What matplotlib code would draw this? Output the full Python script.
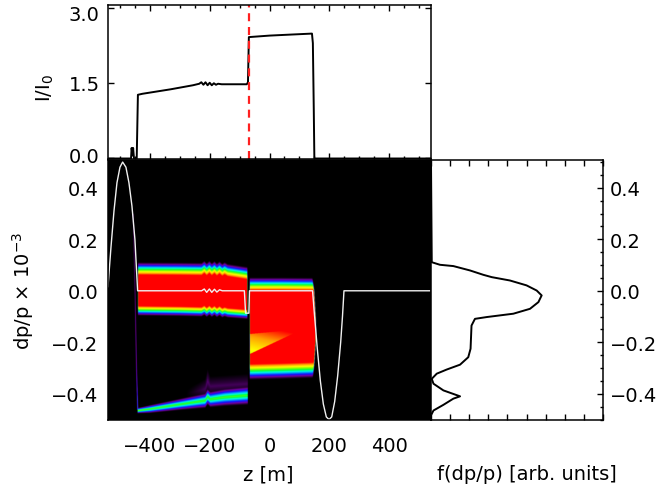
import numpy as np
import matplotlib.pyplot as plt
from matplotlib.colors import LinearSegmentedColormap
from matplotlib.ticker import MultipleLocator
from matplotlib.transforms import ScaledTranslation

plt.rcParams['font.family'] = ['DejaVu Sans']
plt.rcParams['font.size'] = 14
plt.rcParams['axes.linewidth'] = 1.1
plt.rcParams['mathtext.default'] = 'regular'

# ---- top panel: current along the line
z_cur = [-540, -463, -461, -458, -456, -453, -444, -440, -425, -330, -256, -235,
         -228, -221, -214, -207, -200, -193, -186, -179, -172, -160, -120, -76,
         -72, -69, 0, 70, 142, 145, 148, 150, 540]
i_cur = [0.0, 0.0, 0.21, 0.06, 0.21, 0.0, 0.0, 1.27, 1.29, 1.38, 1.46, 1.49,
         1.52, 1.47, 1.52, 1.46, 1.51, 1.46, 1.50, 1.47, 1.49, 1.48, 1.48, 1.48,
         1.52, 2.42, 2.45, 2.47, 2.49, 2.30, 1.00, 0.0, 0.0]
z_marker = -69

# ---- white trace in phase-space panel
z_ref = [-540, -530, -520, -510, -500, -491, -480, -470, -460, -450, -441,
         -227, -218, -210, -201, -193, -184, -176, -167, -158, -84, -80, -69, -67,
         144, 150, 160, 170, 180, 190, 199, 208, 218, 228, 238, 244, 249, 540]
dp_ref = [0.016, 0.17, 0.31, 0.42, 0.48, 0.50, 0.48, 0.42, 0.33, 0.20, 0.0,
          0.0, 0.007, -0.006, 0.007, -0.006, 0.006, -0.005, 0.004, 0.0, 0.0, -0.087, -0.087, 0.0,
          0.0, -0.088, -0.227, -0.35, -0.44, -0.49, -0.50, -0.49, -0.43, -0.33, -0.20, -0.10, 0.0, 0.0]

# ---- bunch core before the jump (edges where density reaches zero)
zA = [-441, -300, -227, -218, -210, -201, -193, -184, -176, -167, -158, -150, -140, -73]
topA = [0.112, 0.111, 0.110, 0.118, 0.109, 0.118, 0.109, 0.117, 0.108, 0.116, 0.107, 0.113, 0.106, 0.094]
botA = [-0.096, -0.098, -0.100, -0.094, -0.102, -0.094, -0.102, -0.095, -0.103, -0.096, -0.104, -0.100, -0.104, -0.110]

# low-energy tail
zT = [-441, -400, -300, -215, -207, -198, -150, -73]
cT = [-0.464, -0.458, -0.440, -0.425, -0.410, -0.420, -0.412, -0.405]
wT = [0.011, 0.016, 0.023, 0.030, 0.032, 0.032, 0.035, 0.037]
pT = [0.64, 0.60, 0.58, 0.58, 0.58, 0.58, 0.58, 0.58]

# faint halo above the tail
zH = [-280, -215, -207, -198, -73]
cH = [-0.40, -0.38, -0.35, -0.37, -0.36]
wH = [0.02, 0.04, 0.05, 0.04, 0.04]
pH = [0.0, 0.10, 0.12, 0.10, 0.10]

# thin streak joining core and tail
dpC = [-0.46, -0.30, 0.0, 0.30]
zC = [-441, -445, -450, -456]
vC = [0.38, 0.22, 0.16, 0.12]

# bunch after the jump
zB = [-67, 40, 150]
topB = [0.053, 0.053, 0.052]
botB = [-0.345, -0.342, -0.338]
dp_end = [-0.35, -0.30, -0.20, -0.15, -0.10, 0.0, 0.06]
z_end = [145, 150, 156, 157, 156, 151, 144]
z_wedge = [-67, 111]
wedge_top = [-0.167, -0.148]
wedge_bot = [-0.245, -0.148]
wedge_depth = [0.32, 0.0]

# ---- projected distribution (right panel)
f_prof = [0.0, 0.004, 0.047, 0.117, 0.204, 0.274, 0.318, 0.413, 0.50, 0.553, 0.579,
          0.562, 0.518, 0.431, 0.292, 0.230, 0.212, 0.207, 0.195, 0.152, 0.082,
          0.030, 0.004, 0.013, 0.065, 0.152, 0.117, 0.065, 0.013, 0.004]
dp_prof = [0.5, 0.111, 0.101, 0.096, 0.079, 0.062, 0.053, 0.040, 0.021, 0.001, -0.018,
           -0.044, -0.070, -0.089, -0.102, -0.109, -0.135, -0.225, -0.258, -0.287, -0.306,
           -0.322, -0.342, -0.361, -0.387, -0.410, -0.419, -0.443, -0.465, -0.478]

# ---------------- density map
zg = np.linspace(-540, 540, 1081)
pg = np.linspace(-0.5, 0.5, 1001)
Z, P = np.meshgrid(zg, pg)

tA = np.interp(zg, zA, topA)
bA = np.interp(zg, zA, botA)
dA = np.clip(np.minimum((tA - P) / 0.052, (P - bA) / 0.040), 0, 1)
dA *= np.clip((Z - zA[0]) / 2.0, 0, 1) * np.clip((zA[-1] - Z) / 2.0, 0, 1)

c = np.interp(zg, zT, cT)
w = np.interp(zg, zT, wT)
p = np.interp(zg, zT, pT)
dT = p * np.clip(1 - np.abs(P - c) / w, 0, 1)
dT *= (Z >= zT[0]) & (Z <= zT[-1])

c = np.interp(zg, zH, cH)
w = np.interp(zg, zH, wH)
p = np.interp(zg, zH, pH)
dH = p * np.clip(1 - np.abs(P - c) / w, 0, 1)
dH *= (Z >= zH[0]) & (Z <= zH[-1])

zl = np.interp(pg, dpC, zC)[:, None]
vl = np.interp(pg, dpC, vC)[:, None]
dC = vl * np.clip(1 - np.abs(Z - zl) / 2.5, 0, 1)
dC *= (P >= dpC[0]) & (P <= dpC[-1])

tB = np.interp(zg, zB, topB)
bB = np.interp(zg, zB, botB)
ze = np.interp(pg, dp_end, z_end)[:, None]
dB = np.clip(np.minimum((tB - P) / 0.053, (P - bB) / 0.065), 0, 1)
dB *= np.clip((Z - zB[0]) / 2.0, 0, 1) * np.clip((ze - Z) / 3.0, 0, 1)
wt = np.interp(zg, z_wedge, wedge_top)
wb = np.interp(zg, z_wedge, wedge_bot)
wd = np.interp(zg, z_wedge, wedge_depth)
inw = (P <= wt) & (P >= wb) & (Z >= z_wedge[0]) & (Z <= z_wedge[1])
frac = np.clip((wt - P) / np.maximum(wt - wb, 1e-6), 0, 1)
dB = np.where(inw, dB - wd * (0.45 + 0.55 * frac), dB)

dens = np.maximum.reduce([dA, dT, dH, dC, dB])

cmap = LinearSegmentedColormap.from_list('idl', [
    (0.0, '#000000'), (0.07, '#2a0038'), (0.16, '#7800a0'), (0.26, '#1010ff'),
    (0.36, '#00a0ff'), (0.44, '#00ffe0'), (0.52, '#00ff40'), (0.62, '#80ff00'),
    (0.72, '#ffff00'), (0.84, '#ffa000'), (0.95, '#ff0000'), (1.0, '#ff0000')])

# ---------------- figure
W, H = 660, 489
fig = plt.figure(figsize=(6.6, 4.89), dpi=100)
ax_top = fig.add_axes([108 / W, 329 / H, 323 / W, 154 / H])
ax_main = fig.add_axes([108 / W, 68.5 / H, 323 / W, 260 / H])
ax_r = fig.add_axes([431 / W, 68.5 / H, 172 / W, 260 / H])

# top panel
ax_top.plot(z_cur, i_cur, color='black', lw=1.4)
ax_top.axvline(z_marker, color='#ff2020', lw=1.6, dashes=(3.6, 2.6))
ax_top.set_xlim(-540, 540)
ax_top.set_ylim(-0.01, 3.06)
ax_top.set_yticks([0, 1.5, 3.0])
ax_top.xaxis.set_major_locator(MultipleLocator(200))
ax_top.xaxis.set_minor_locator(MultipleLocator(50))
ax_top.tick_params(which='both', direction='in', top=True, right=True,
                   labelbottom=False)
ax_top.tick_params(which='major', length=4, width=1)
ax_top.tick_params(which='minor', length=2.5, width=1)
ax_top.tick_params(axis='y', pad=6)
# the labels sit a little inside the panel, as in the original
for lbl, dy in zip(ax_top.get_yticklabels(), [4, 1, -4]):
    lbl.set_transform(lbl.get_transform() + ScaledTranslation(0, dy / 100, fig.dpi_scale_trans))

# main panel
ax_main.set_facecolor('black')
ax_main.imshow(dens, extent=(-540, 540, -0.5, 0.5), origin='lower', aspect='auto',
               cmap=cmap, vmin=0, vmax=1, interpolation='bilinear')
ax_main.plot(z_ref, dp_ref, color='#f0f0f0', lw=1.0)
ax_main.set_xlim(-540, 540)
ax_main.set_ylim(-0.5, 0.51)
ax_main.set_xticks([-400, -200, 0, 200, 400])
ax_main.yaxis.set_major_locator(MultipleLocator(0.2))
ax_main.tick_params(direction='in', length=0)
ax_main.tick_params(axis='x', pad=12)
ax_main.tick_params(axis='y', pad=7)

# right panel
ax_r.plot(f_prof, dp_prof, color='black', lw=1.4)
ax_r.set_xlim(0, 0.9)
ax_r.set_ylim(-0.5, 0.51)
ax_r.xaxis.set_major_locator(MultipleLocator(0.1))
ax_r.yaxis.set_major_locator(MultipleLocator(0.2))
ax_r.yaxis.set_minor_locator(MultipleLocator(0.05))
ax_r.tick_params(which='both', direction='in', top=True, bottom=True,
                 left=False, right=True, labelleft=False, labelright=True,
                 labelbottom=False)
ax_r.tick_params(which='major', length=4, width=1)
ax_r.tick_params(which='minor', length=2, width=1)
ax_r.tick_params(axis='y', pad=5)

fig.text(268 / W, 1 - 475 / H, 'z [m]', ha='center', va='center')
fig.text(527 / W, 1 - 475 / H, 'f(dp/p) [arb. units]', ha='center', va='center')
fig.text(23 / W, 1 - 291 / H, 'dp/p × 10$^{-3}$', rotation=90, ha='center', va='center')
fig.text(45 / W, 1 - 88 / H, 'I/I$_0$', rotation=90, ha='center', va='center')

fig.savefig('out.png', dpi=100)
